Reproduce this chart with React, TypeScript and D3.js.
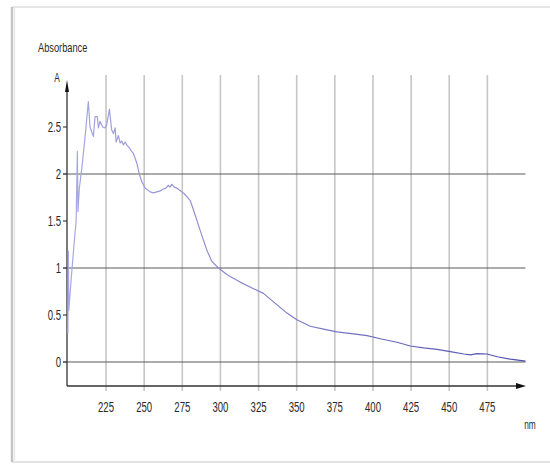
import React from "react";
import * as d3 from "d3";

const wavelengths = [
  200.0, 200.3, 200.6, 202, 204, 205.4, 206.2, 206.6, 207.5, 209.1, 211, 213.4, 214.5, 215.6, 216.7, 217.8,
  219.3, 220, 221, 222.8, 224.3, 225.4, 227.2, 228.7, 229.8, 231, 231.6, 233.1, 234.2, 235.3, 236.4, 237.5, 238.6,
  239.6, 240.7, 241.8, 242.9, 244.0, 245.1, 246.8, 248.4, 250.6, 253.9, 256.1, 258.3, 260.5, 262.6, 264.2, 265.9, 267.0, 268.1, 269.8, 271.4, 273.0, 274.7,
  276.3, 278, 280.1, 282.3, 286.7, 291.1, 294.4, 298.7, 304.2, 306.4, 312.9, 321.7, 328.2, 334.8, 343.6,
  350.1, 358.9, 367.6, 376.4, 387.3, 396.1, 405.5, 415.8, 424.5, 433.2, 442, 450.7, 459.5, 463.9,
  468.3, 474.8, 481.4, 490.1, 500,
];
const absorbance = [
  0.3, 1.18, 0.55, 0.85, 1.25, 1.5, 2.24, 1.6, 1.85, 2.06, 2.35, 2.77, 2.5, 2.45, 2.4, 2.61,
  2.61, 2.49, 2.56, 2.5, 2.49, 2.52, 2.69, 2.47, 2.43, 2.49, 2.34, 2.41, 2.33, 2.35, 2.31, 2.34, 2.31,
  2.29, 2.27, 2.24, 2.22, 2.17, 2.12, 2.0, 1.92, 1.85, 1.81, 1.8, 1.81, 1.82, 1.84, 1.85, 1.88, 1.86, 1.89, 1.86, 1.85, 1.83, 1.81,
  1.79, 1.76, 1.72, 1.62, 1.4, 1.19, 1.07, 1.0, 0.93, 0.91, 0.85, 0.78, 0.73, 0.64, 0.52,
  0.45, 0.38, 0.35, 0.32, 0.3, 0.28, 0.245, 0.21, 0.17, 0.15, 0.135, 0.11, 0.085, 0.075,
  0.09, 0.085, 0.056, 0.03, 0.01,
];
const xTickValues = [225, 250, 275, 300, 325, 350, 375, 400, 425, 450, 475];
const yTickValues = [0, 0.5, 1, 1.5, 2, 2.5];
const yGridValues = [0, 1, 2];
const yTitle = "Absorbance";
const yUnit = "A";
const xUnit = "nm";

export default function App() {
  const x = d3.scaleLinear().domain([200, 500]).range([67.9, 525.5]);
  const y = d3.scaleLinear().domain([0, 3]).range([362, 80]);
  const pts: [number, number][] = wavelengths.map((w, i) => [w, absorbance[i]]);
  const line = d3
    .line<[number, number]>()
    .x((d) => x(d[0]))
    .y((d) => y(d[1]));
  const axisY = 386;
  const axisX = 67;
  const fontFam = "'Liberation Sans', Arial, sans-serif";
  const sx = 0.64;
  return (
    <svg
      width={550}
      height={464}
      style={{ position: "absolute", left: 0, top: 0 }}
    >
      <defs>
        <linearGradient id="lg" x1="0" x2="1" y1="0" y2="0">
          <stop offset="0%" stopColor="#a8a8e2" />
          <stop offset="35%" stopColor="#8a8ad0" />
          <stop offset="100%" stopColor="#4e4eae" />
        </linearGradient>
      </defs>
      <rect x={0} y={0} width={550} height={464} fill="#fff" />
      {/* frame */}
      <line x1={12} y1={7} x2={550} y2={7} stroke="#e6e6e6" strokeWidth={2} />
      <line x1={12} y1={462} x2={550} y2={462} stroke="#d8d8d8" strokeWidth={1.5} />
      <line x1={12} y1={7} x2={12} y2={462} stroke="#c4c4c4" strokeWidth={2.5} />
      <line x1={14.5} y1={8} x2={14.5} y2={462} stroke="#ececec" strokeWidth={1.5} />
      {/* vertical grid */}
      {xTickValues.map((v) => (
        <line
          key={"vg" + v}
          x1={x(v)}
          x2={x(v)}
          y1={75}
          y2={391}
          stroke="#c6c6c6"
          strokeWidth={1.6}
        />
      ))}
      {/* horizontal grid */}
      {yGridValues.map((v) => (
        <line
          key={"hg" + v}
          x1={63}
          x2={525.5}
          y1={y(v)}
          y2={y(v)}
          stroke="#5a5a5a"
          strokeWidth={1.2}
        />
      ))}
      {/* y ticks */}
      {yTickValues.map((v) => (
        <line
          key={"yt" + v}
          x1={63}
          x2={axisX}
          y1={y(v)}
          y2={y(v)}
          stroke="#444"
          strokeWidth={1.2}
        />
      ))}
      {/* axes */}
      <line x1={axisX} x2={axisX} y1={86} y2={axisY} stroke="#333" strokeWidth={1.3} />
      <path d={`M${axisX},80 L${axisX - 2},92 L${axisX + 2},92 Z`} fill="#111" />
      <line x1={axisX} x2={517} y1={axisY} y2={axisY} stroke="#333" strokeWidth={1.3} />
      <path d={`M526,${axisY} L516,${axisY - 3} L516,${axisY + 3} Z`} fill="#111" />
      {/* data line */}
      <path d={line(pts) || ""} fill="none" stroke="url(#lg)" strokeWidth={1.2} strokeLinejoin="round" />
      {/* y labels */}
      {yTickValues.map((v) => (
        <text
          key={"yl" + v}
          transform={`translate(61,${y(v)}) scale(${sx},1)`}
          textAnchor="end"
          dominantBaseline="central"
          fontFamily={fontFam}
          fontSize={15}
          fill="#2a2a2a"
        >
          {String(v)}
        </text>
      ))}
      {/* x labels */}
      {xTickValues.map((v) => (
        <text
          key={"xl" + v}
          transform={`translate(${x(v)},407) scale(${sx},1)`}
          textAnchor="middle"
          dominantBaseline="central"
          fontFamily={fontFam}
          fontSize={15}
          fill="#2a2a2a"
        >
          {String(v)}
        </text>
      ))}
      <text
        transform={`translate(38,47) scale(0.74,1)`}
        dominantBaseline="central"
        fontFamily={fontFam}
        fontSize={12.5}
        fill="#2a2a2a"
      >
        {yTitle}
      </text>
      <text
        transform={`translate(57,77) scale(${sx},1)`}
        textAnchor="middle"
        dominantBaseline="central"
        fontFamily={fontFam}
        fontSize={13}
        fill="#2a2a2a"
      >
        {yUnit}
      </text>
      <text
        transform={`translate(530,424) scale(${sx},1)`}
        textAnchor="middle"
        dominantBaseline="central"
        fontFamily={fontFam}
        fontSize={13}
        fill="#2a2a2a"
      >
        {xUnit}
      </text>
    </svg>
  );
}
